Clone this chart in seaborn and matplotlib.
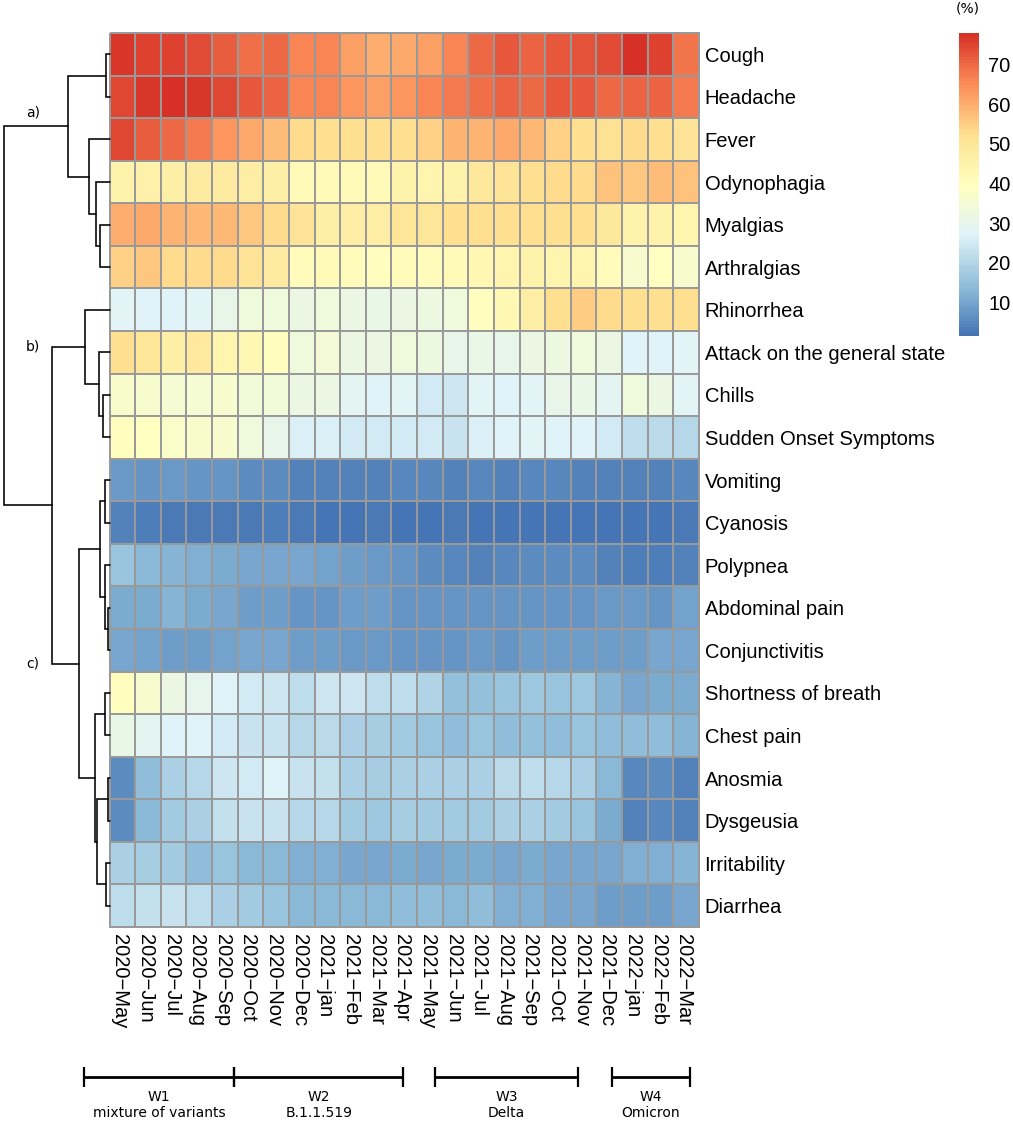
import matplotlib
matplotlib.use("Agg")
import matplotlib.pyplot as plt
from matplotlib.colors import LinearSegmentedColormap
from matplotlib.transforms import ScaledTranslation
import numpy as np
import pandas as pd
import seaborn as sns

months = ["2020\u2212May", "2020\u2212Jun", "2020\u2212Jul", "2020\u2212Aug", "2020\u2212Sep", "2020\u2212Oct",
          "2020\u2212Nov", "2020\u2212Dec", "2021\u2212jan", "2021\u2212Feb", "2021\u2212Mar", "2021\u2212Apr",
          "2021\u2212May", "2021\u2212Jun", "2021\u2212Jul", "2021\u2212Aug", "2021\u2212Sep", "2021\u2212Oct",
          "2021\u2212Nov", "2021\u2212Dec", "2022\u2212jan", "2022\u2212Feb", "2022\u2212Mar"]

cough = [77, 75, 75, 73.5, 71.5, 69, 70, 66, 66, 62, 60, 60.5, 62, 66.5, 70, 72.5, 71, 72.5, 73, 74, 77.5, 75, 68.5]
headache = [74.5, 77, 77.5, 77, 74.5, 72, 71, 66, 66, 64, 62.5, 64, 66, 68, 69, 71, 70, 72, 72.5, 70, 71, 70.5, 68]
fever = [74.5, 71.5, 70, 67.5, 64, 60.5, 58, 53, 52, 52, 52.5, 52.5, 55, 59, 59.5, 61, 58.5, 55, 52.5, 51.5, 53, 52, 51]
odynophagia = [45, 45.5, 46, 47.5, 48, 47, 46, 42, 42, 42, 42, 45, 44, 44.5, 49, 50.5, 52, 53.5, 53.5, 57, 56.5, 57.5, 57]
myalgias = [60, 60.5, 59, 58.5, 58.5, 56, 53.5, 51, 46.5, 47, 47, 50, 50, 52.5, 52, 52, 52.5, 52, 52.5, 49, 45, 45, 44]
arthralgias = [55, 56, 53.5, 53, 53, 51, 48, 41, 41.5, 41, 40.5, 41, 41, 42, 43.5, 44, 44.5, 44, 44, 41, 36.5, 39, 36]
rhinorrhea = [28, 27, 27, 28, 30, 33, 33.5, 31.5, 33, 31.5, 31, 32, 32.5, 33, 40, 42.5, 47, 52, 55.5, 53, 52.5, 52.5, 52.5]
attack = [52.5, 50, 46.5, 48.5, 44, 42.5, 40, 33.5, 34.5, 32, 32, 33, 32.5, 30.5, 31, 30.5, 32, 32.5, 33.5, 32, 27, 27.5, 28]
chills = [37, 36, 35.5, 35.5, 36, 34, 34, 32, 32, 29, 27.5, 28, 25, 24, 28, 27.5, 28, 30, 31, 29, 33.5, 31.5, 28]
sudden_onset = [40, 39, 37.5, 37, 36, 33, 30, 26, 26, 24.5, 24.5, 25, 25, 23, 26, 27, 28, 27, 27.5, 25, 22, 21, 20.5]
vomiting = [8, 7.5, 8, 7.5, 7.5, 6, 5.5, 4.5, 4.5, 4.5, 4.5, 5, 5, 4.5, 5, 4.5, 5, 5, 4.5, 4, 4.5, 4.5, 5]
cyanosis = [4.5, 3.5, 3, 3, 2.5, 3, 3.5, 3, 2, 2, 2.5, 2, 1.5, 2.5, 2, 2, 2, 2, 2, 2, 2, 2, 2.5]
polypnea = [16, 13.5, 12.5, 11.5, 11, 10, 10.5, 10, 9.5, 9, 8, 7, 6, 5, 4.5, 5, 6, 5.5, 6, 4.5, 3.5, 3.5, 4]
abdominal = [11, 11, 12.5, 11, 10.5, 8.5, 8.5, 7.5, 7.5, 8.5, 8.5, 7.5, 7.5, 7, 7.5, 7.5, 7, 7, 7, 8, 8, 7.5, 9.5]
conjunctivitis = [10, 9.5, 9, 9, 9.5, 10.5, 10.5, 9, 9, 8, 8, 7.5, 7.5, 7.5, 8, 7.5, 9, 8.5, 9, 8.5, 9, 10, 10]
shortness = [40, 36, 32, 29.5, 27, 25, 24, 22, 24, 24, 22, 22, 19.5, 15, 15, 15.5, 16.5, 16, 16.5, 12.5, 10.5, 11, 11]
chest_pain = [31, 28.5, 27.5, 27, 24.5, 23, 23, 20.5, 21, 19, 18, 17.5, 15.5, 14, 15.5, 14.5, 15, 14, 15.5, 14, 14.5, 14, 12.5]
anosmia = [6, 14, 18.5, 20.5, 24, 25, 27, 23, 22.5, 18.5, 18, 19, 18.5, 18.5, 19, 21, 22, 20.5, 18.5, 13, 5, 5.5, 4.5]
dysgeusia = [6, 13.5, 17, 19, 22.5, 23, 23.5, 20.5, 20, 17.5, 16.5, 18, 17.5, 17, 17.5, 18.5, 19, 17.5, 16, 11, 4.5, 5, 4.5]
irritability = [19, 18, 17, 14.5, 15.5, 13, 13, 12, 12, 10.5, 10, 11, 10.5, 11, 11, 10.5, 11, 10, 10.5, 10, 12, 11.5, 12.5]
diarrhea = [22, 22.5, 23.5, 22, 19, 17, 16, 13.5, 13.5, 13, 13, 14, 14, 13.5, 14, 12, 11.5, 10, 10, 9, 9, 9, 10]

symptoms = ["Cough", "Headache", "Fever", "Odynophagia", "Myalgias", "Arthralgias", "Rhinorrhea",
            "Attack on the general state", "Chills", "Sudden Onset Symptoms", "Vomiting", "Cyanosis",
            "Polypnea", "Abdominal pain", "Conjunctivitis", "Shortness of breath", "Chest pain",
            "Anosmia", "Dysgeusia", "Irritability", "Diarrhea"]
matrix = [cough, headache, fever, odynophagia, myalgias, arthralgias, rhinorrhea, attack, chills,
          sudden_onset, vomiting, cyanosis, polypnea, abdominal, conjunctivitis, shortness, chest_pain,
          anosmia, dysgeusia, irritability, diarrhea]

# Row dendrogram: each merge joins two nodes; non-negative = row index, negative = -(k+1) = merge k
merge_left = [0, 4, 3, 2, -1, 8, 7, 6, 10, 13, 12, -9, 15, 17, 19, -14, -13, -12, -8, -5]
merge_right = [1, 5, -2, -3, -4, 9, -6, -7, 11, 14, -10, -11, 16, 18, 20, -15, -16, -17, -18, -19]
merge_height = [4, 10, 13.5, 20.5, 41.5, 6.5, 11, 24.5, 5, 2, 5, 10, 5, 2, 4, 13, 15, 31, 57.5, 105.5]

wave_names = ["W1\nmixture of variants", "W2\nB.1.1.519", "W3\nDelta", "W4\nOmicron"]
wave_start = [-1.0, 4.86, 12.71, 19.59]
wave_end = [4.86, 11.46, 18.26, 22.64]

cluster_names = ["a)", "b)", "c)"]

W, H = 1013, 1123
FONT = "Liberation Sans"
sns.set_theme(style="white")
plt.rcParams["font.family"] = [FONT, "DejaVu Sans"]
plt.rcParams["text.color"] = "black"


def px_axes(fig, x0, y0, x1, y1):
    return fig.add_axes([x0 / W, 1 - y1 / H, (x1 - x0) / W, (y1 - y0) / H])


fig = plt.figure(figsize=(W / 100, H / 100), dpi=100)
ax = px_axes(fig, 109.5, 33, 699, 927)
cax = px_axes(fig, 959, 33, 979, 336)
dax = px_axes(fig, 0, 33, 109.5, 927)
wax = px_axes(fig, 109.5, 1060, 699, 1123)

cmap = LinearSegmentedColormap.from_list(
    "rdylbu7", ["#4575B4", "#91BFDB", "#E0F3F8", "#FFFFBF", "#FEE090", "#FC8D59", "#D73027"], N=100)
frame = pd.DataFrame(matrix, index=symptoms, columns=months)
sns.heatmap(frame, ax=ax, cbar_ax=cax, cmap=cmap, vmin=1.5, vmax=78, linewidths=1.1, linecolor="#999999",
            xticklabels=True, yticklabels=True, cbar_kws={"ticks": [10, 20, 30, 40, 50, 60, 70]})
for coll in ax.collections:
    coll.set_clip_on(False)
ax.yaxis.tick_right()
ax.tick_params(axis="y", length=0, pad=4, labelsize=14.5, labelrotation=0, colors="black")
ax.tick_params(axis="x", length=0, pad=5, labelsize=14.5, labelrotation=270, colors="black")
shift = ScaledTranslation(-2.5 / 100, 0, fig.dpi_scale_trans)
for t in ax.get_xticklabels():
    t.set_ha("center")
    t.set_va("top")
    t.set_transform(t.get_transform() + shift)
ax.set_xlabel("")
ax.set_ylabel("")

cbar = ax.collections[0].colorbar
cbar.outline.set_visible(False)
cbar.ax.tick_params(length=0, pad=6.5, labelsize=14.5, colors="black")
fig.text(968 / W, 1 - 8 / H, "(%)", family="DejaVu Sans", fontsize=10, ha="center", va="center")

# Dendrogram
pos = {}
hgt = {}
for i in range(len(symptoms)):
    pos[i] = i + 0.5
    hgt[i] = 0.0
for k, (a, b, h) in enumerate(zip(merge_left, merge_right, merge_height)):
    dax.plot([hgt[a], h, h, hgt[b]], [pos[a], pos[a], pos[b], pos[b]], color="black", lw=1.15,
             solid_joinstyle="miter", clip_on=False)
    pos[-(k + 1)] = (pos[a] + pos[b]) / 2
    hgt[-(k + 1)] = h
dax.set_xlim(109.5, 0)
dax.set_ylim(len(symptoms), 0)
dax.axis("off")
for name, node, nudge in zip(cluster_names, [-5, -8, -18], [-0.33, 0, 0]):
    dax.text(109.5 - 33, pos[node] + nudge, name, family="DejaVu Sans", fontsize=10, ha="center", va="center")

# Wave bars
wax.set_xlim(0, len(months))
wax.set_ylim(63, 0)
wax.axis("off")
for name, s, e in zip(wave_names, wave_start, wave_end):
    wax.hlines(17, s, e, color="black", lw=2, clip_on=False)
    wax.vlines([s, e], 7, 27, color="black", lw=1.6, clip_on=False)
    wax.text((s + e) / 2, 45, name, family="DejaVu Sans", fontsize=10, ha="center", va="center", linespacing=1.15)

fig.savefig("out.png", dpi=100, facecolor="white")
